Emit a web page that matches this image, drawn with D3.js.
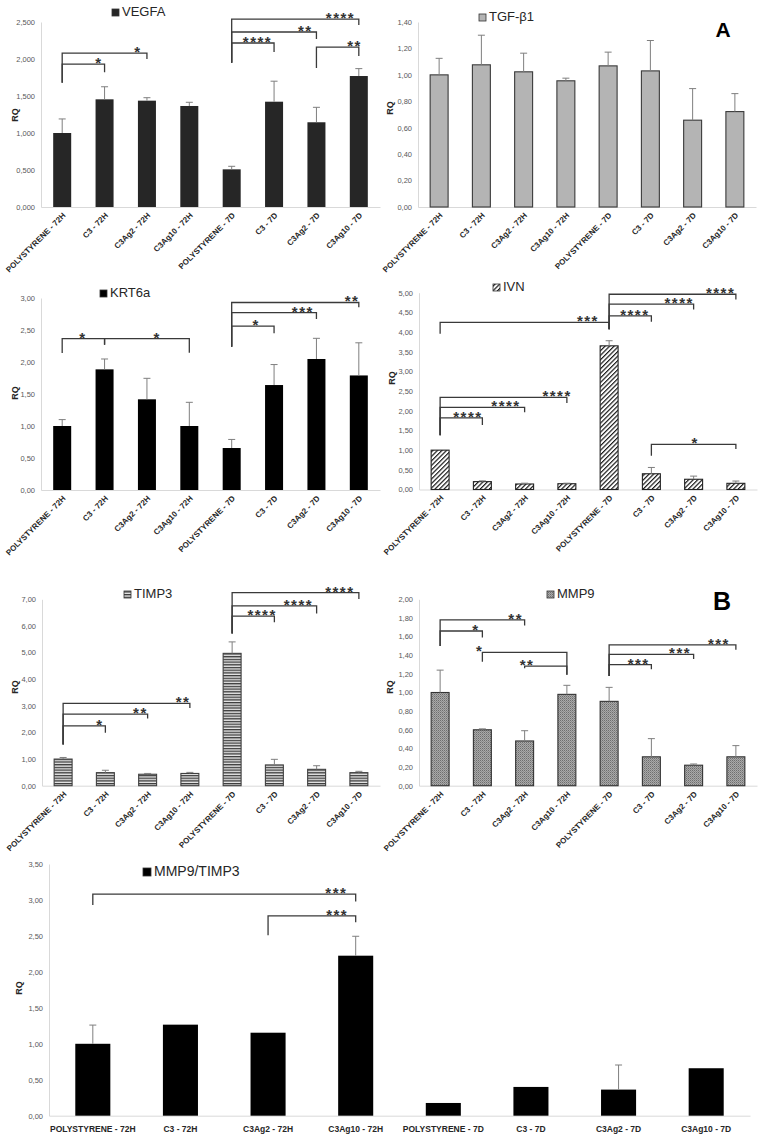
<!DOCTYPE html>
<html><head><meta charset="utf-8">
<script src="https://cdn.jsdelivr.net/npm/d3@7"></script>
<style>
body{margin:0;background:#fff;}
svg{display:block;font-family:"Liberation Sans",Arial,sans-serif;}
</style>
</head><body>
<svg id="chart" width="763" height="1145"></svg>
<script>
// ---------------- DATA ----------------
const categories = ["POLYSTYRENE - 72H","C3 - 72H","C3Ag2 - 72H","C3Ag10 - 72H","POLYSTYRENE - 7D","C3 - 7D","C3Ag2 - 7D","C3Ag10 - 7D"];

const vegfaValues = [1.0, 1.455, 1.437, 1.365, 0.509, 1.423, 1.145, 1.77];
const vegfaErrors = [0.19, 0.17, 0.04, 0.05, 0.041, 0.277, 0.202, 0.10];
const vegfaTicks  = [0, 0.5, 1, 1.5, 2, 2.5];

const tgfValues = [1.0, 1.076, 1.023, 0.955, 1.068, 1.03, 0.657, 0.722];
const tgfErrors = [0.125, 0.224, 0.141, 0.02, 0.104, 0.23, 0.239, 0.136];
const tgfTicks  = [0, 0.2, 0.4, 0.6, 0.8, 1.0, 1.2, 1.4];

const krtValues = [1.0, 1.885, 1.417, 1.0, 0.656, 1.64, 2.047, 1.79];
const krtErrors = [0.10, 0.162, 0.328, 0.37, 0.134, 0.32, 0.323, 0.51];
const krtTicks  = [0, 0.5, 1, 1.5, 2, 2.5, 3];

const ivnValues = [1.0, 0.2, 0.14, 0.147, 3.65, 0.40, 0.26, 0.157];
const ivnErrors = [0, 0.02, 0.02, 0.013, 0.13, 0.16, 0.08, 0.058];
const ivnTicks  = [0, 0.5, 1, 1.5, 2, 2.5, 3, 3.5, 4, 4.5, 5];

const timpValues = [1.0, 0.49, 0.43, 0.46, 4.97, 0.78, 0.615, 0.49];
const timpErrors = [0.06, 0.09, 0.03, 0.04, 0.43, 0.21, 0.135, 0.05];
const timpTicks  = [0, 1, 2, 3, 4, 5, 6, 7];

const mmpValues = [1.0, 0.6, 0.48, 0.98, 0.905, 0.31, 0.22, 0.31];
const mmpErrors = [0.24, 0.01, 0.11, 0.097, 0.15, 0.195, 0.013, 0.12];
const mmpTicks  = [0, 0.2, 0.4, 0.6, 0.8, 1.0, 1.2, 1.4, 1.6, 1.8, 2.0];

const ratioValues = [1.0, 1.266, 1.154, 2.225, 0.177, 0.40, 0.363, 0.66];
const ratioErrors = [0.26, 0, 0, 0.27, 0, 0, 0.342, 0];
const ratioTicks  = [0, 0.5, 1, 1.5, 2, 2.5, 3, 3.5];

// significance brackets: [fromIndex, toIndex, lineValue, leftEndValue, rightEndValue, label, labelIndex]
const vegfaBrackets = [
  [0,1,1.93,1.68,1.82,"*",0.85],
  [0,2,2.08,1.68,2.00,"*",1.77],
  [4,7,2.54,1.95,2.46,"****",6.55],
  [4,6,2.365,1.95,2.27,"**",5.72],
  [4,5,2.216,1.95,2.095,"****",4.59],
  [6,7,2.16,1.88,2.04,"**",6.88]
];
const tgfBrackets = [];
const krtBrackets = [
  [0,1,2.364,2.14,2.27,"*",0.47],
  [1,3,2.364,2.27,2.145,"*",2.22],
  [4,7,2.93,2.24,2.855,"**",6.82],
  [4,6,2.77,2.24,2.67,"***",5.66],
  [4,5,2.56,2.24,2.45,"*",4.56]
];
const ivnBrackets = [
  [0,4,4.245,3.96,4.07,"***",3.48],
  [4,5,4.41,4.07,4.26,"****",4.59],
  [4,6,4.71,4.07,4.57,"****",5.64],
  [4,7,4.96,4.07,4.83,"****",6.62],
  [0,1,1.82,1.38,1.64,"****",0.64],
  [0,2,2.085,1.38,1.96,"****",1.54],
  [0,3,2.34,1.38,2.2,"****",2.75],
  [5,7,1.147,0.86,1.03,"*",6.02]
];
const timpBrackets = [
  [0,1,2.25,1.55,1.99,"*",0.85],
  [0,2,2.69,1.55,2.52,"**",1.81],
  [0,3,3.09,1.55,2.92,"**",2.82],
  [4,5,6.37,5.72,6.14,"****",4.69],
  [4,6,6.75,5.72,6.47,"****",5.55],
  [4,7,7.25,5.72,7.01,"****",6.53]
];
const mmpBrackets = [
  [0,1,1.66,1.50,1.59,"*",0.83],
  [0,2,1.78,1.50,1.72,"**",1.77],
  [1,3,1.43,1.33,1.19,"*",0.92],
  [2,3,1.284,1.26,1.19,"**",2.04],
  [4,5,1.30,1.177,1.25,"***",4.68],
  [4,6,1.41,1.177,1.36,"***",5.66],
  [4,7,1.51,1.177,1.46,"***",6.58]
];
const ratioBrackets = [
  [0,3,3.08,2.93,2.98,"***",2.77],
  [2,3,2.78,2.51,2.69,"***",2.78]
];

// ---------------- LAYOUT ----------------
const panels = [
  {name:"VEGFA", values:vegfaValues, errors:vegfaErrors, ticks:vegfaTicks, dec:3, brackets:vegfaBrackets,
   box:{l:41,r:380,t:22,b:207}, fill:"#262626", stroke:"none", title:{x:112,y:16,fs:13,sq:7}, ylab:{x:15,y:115}, rotated:true, pad:0.575},
  {name:"TGF-β1", values:tgfValues, errors:tgfErrors, ticks:tgfTicks, dec:2, brackets:tgfBrackets,
   box:{l:418,r:756,t:22,b:207}, fill:"#b4b4b4", stroke:"#3a3a3a", title:{x:479,y:21,fs:13,sq:7}, ylab:{x:390,y:108}, rotated:true, pad:0.575},
  {name:"KRT6a", values:krtValues, errors:krtErrors, ticks:krtTicks, dec:2, brackets:krtBrackets,
   box:{l:41,r:380,t:298,b:490}, fill:"#000", stroke:"none", title:{x:100,y:297,fs:13,sq:7}, ylab:{x:15,y:393}, rotated:true, pad:0.575},
  {name:"IVN", values:ivnValues, errors:ivnErrors, ticks:ivnTicks, dec:2, brackets:ivnBrackets,
   box:{l:419,r:757,t:292.7,b:489.5}, fill:"url(#hatch)", stroke:"#222", title:{x:493,y:291,fs:13,sq:7}, ylab:{x:392,y:378}, rotated:true, pad:0.575},
  {name:"TIMP3", values:timpValues, errors:timpErrors, ticks:timpTicks, dec:2, brackets:timpBrackets,
   box:{l:42,r:380,t:599.3,b:785.7}, fill:"url(#hstripe)", stroke:"#404040", title:{x:124,y:598,fs:13,sq:7}, ylab:{x:15,y:687}, rotated:true, pad:0.575},
  {name:"MMP9", values:mmpValues, errors:mmpErrors, ticks:mmpTicks, dec:2, brackets:mmpBrackets,
   box:{l:419,r:757,t:599.3,b:785.7}, fill:"url(#dots)", stroke:"#333", title:{x:547,y:598,fs:13,sq:7}, ylab:{x:390,y:687}, rotated:true, pad:0.575},
  {name:"MMP9/TIMP3", values:ratioValues, errors:ratioErrors, ticks:ratioTicks, dec:2, brackets:ratioBrackets,
   box:{l:49,r:750,t:864,b:1115.7}, fill:"#000", stroke:"none", title:{x:143,y:876,fs:14,sq:8}, ylab:{x:19,y:988}, rotated:false, pad:0.6}
];

const svg = d3.select("#chart");
const defs = svg.append("defs");

const hatch = defs.append("pattern").attr("id","hatch").attr("patternUnits","userSpaceOnUse")
  .attr("width",3.2).attr("height",3.2).attr("patternTransform","rotate(45)");
hatch.append("rect").attr("width",3.2).attr("height",3.2).attr("fill","#fff");
hatch.append("line").attr("x1",0.6).attr("y1",0).attr("x2",0.6).attr("y2",3.2).attr("stroke","#1a1a1a").attr("stroke-width",1.2);

const hs = defs.append("pattern").attr("id","hstripe").attr("patternUnits","userSpaceOnUse")
  .attr("width",4).attr("height",2.7);
hs.append("rect").attr("width",4).attr("height",2.7).attr("fill","#e6e6e6");
hs.append("rect").attr("y",0).attr("width",4).attr("height",1.3).attr("fill","#3a3a3a");

const dots = defs.append("pattern").attr("id","dots").attr("patternUnits","userSpaceOnUse")
  .attr("width",2).attr("height",2);
dots.append("rect").attr("width",2).attr("height",2).attr("fill","#a9a9a9");
dots.append("rect").attr("width",1).attr("height",1).attr("fill","#6e6e6e");
dots.append("rect").attr("x",1).attr("y",1).attr("width",1).attr("height",1).attr("fill","#8a8a8a");

const fmt = (v, d) => v.toFixed(d).replace(".", ",");

panels.forEach(p => {
  const g = svg.append("g");
  const x = d3.scaleBand().domain(categories).range([p.box.l, p.box.r])
    .paddingInner(p.pad).paddingOuter(p.pad / 2);
  const y = d3.scaleLinear().domain([0, d3.max(p.ticks)]).range([p.box.b, p.box.t]);
  const cx = i => x(categories[0]) + x.bandwidth() / 2 + i * x.step();

  // y axis
  const ya = g.append("g").attr("transform", `translate(${p.box.l},0)`)
    .call(d3.axisLeft(y).tickValues(p.ticks).tickFormat(d => fmt(d, p.dec)).tickSize(0).tickPadding(6));
  ya.select(".domain").attr("stroke", "#d9d9d9");
  ya.selectAll("text").attr("fill", "#595959").style("font-size", "7.5px")
    .style("font-family", '"Liberation Sans",Arial,sans-serif');

  // x axis
  const xa = g.append("g").attr("transform", `translate(0,${p.box.b})`)
    .call(d3.axisBottom(x).tickSize(0).tickSizeOuter(0).tickPadding(10));
  xa.select(".domain").attr("stroke", "#d9d9d9");
  const xt = xa.selectAll("text").attr("fill", "#262626").style("font-weight", "bold")
    .style("font-family", '"Liberation Sans",Arial,sans-serif');
  if (p.rotated) {
    xt.style("font-size", "8px").attr("text-anchor", "end").attr("x", 0).attr("y", 0).attr("dy", 0)
      .attr("transform", "translate(4,9) rotate(-45)");
  } else {
    xt.style("font-size", "8.5px");
  }

  // bars
  const rows = categories.map((c, i) => ({c, v: p.values[i], e: p.errors[i]}));
  g.selectAll(".bar").data(rows).join("rect")
    .attr("x", d => x(d.c)).attr("width", x.bandwidth())
    .attr("y", d => y(d.v)).attr("height", d => y(0) - y(d.v))
    .attr("fill", p.fill).attr("stroke", p.stroke).attr("stroke-width", 1.1);

  // error bars
  g.selectAll(".err").data(rows.filter(d => d.e > 0)).join("path")
    .attr("d", d => {
      const c = x(d.c) + x.bandwidth() / 2, y0 = y(d.v), y1 = y(d.v + d.e);
      return `M${c},${y0}V${y1}M${c - 3.5},${y1}H${c + 3.5}`;
    })
    .attr("fill", "none").attr("stroke", "#7f7f7f").attr("stroke-width", 1);

  // brackets
  const br = g.append("g");
  p.brackets.forEach(([a, b, yl, yA, yB, label, at]) => {
    br.append("path")
      .attr("d", `M${cx(a)},${y(yA)}V${y(yl)}H${cx(b)}V${y(yB)}`)
      .attr("fill", "none").attr("stroke", "#3a3a3a").attr("stroke-width", 1.3);
    br.append("text").attr("x", cx(at) + 0.8).attr("y", y(yl) + 4)
      .attr("text-anchor", "middle").attr("fill", "#333")
      .style("font-size", "15px").style("font-weight", "bold").style("letter-spacing", "1.5px")
      .text(label);
  });

  // title legend
  g.append("rect").attr("x", p.title.x).attr("y", p.title.y - p.title.sq)
    .attr("width", p.title.sq).attr("height", p.title.sq)
    .attr("fill", p.fill).attr("stroke", "#333").attr("stroke-width", 0.8);
  g.append("text").attr("x", p.title.x + p.title.sq + 3).attr("y", p.title.y)
    .attr("fill", "#262626").style("font-size", p.title.fs + "px").text(p.name);

  // y label
  g.append("text").attr("transform", `translate(${p.ylab.x},${p.ylab.y}) rotate(-90)`)
    .attr("text-anchor", "middle").attr("dy", "0.35em").attr("fill", "#262626")
    .style("font-size", "9px").style("font-weight", "bold").text("RQ");
});

// panel letters
svg.append("text").attr("x", 723).attr("y", 37).attr("text-anchor", "middle")
  .style("font-size", "21px").style("font-weight", "bold").text("A");
svg.append("text").attr("x", 722).attr("y", 610).attr("text-anchor", "middle")
  .style("font-size", "25px").style("font-weight", "bold").text("B");
</script>
</body></html>
